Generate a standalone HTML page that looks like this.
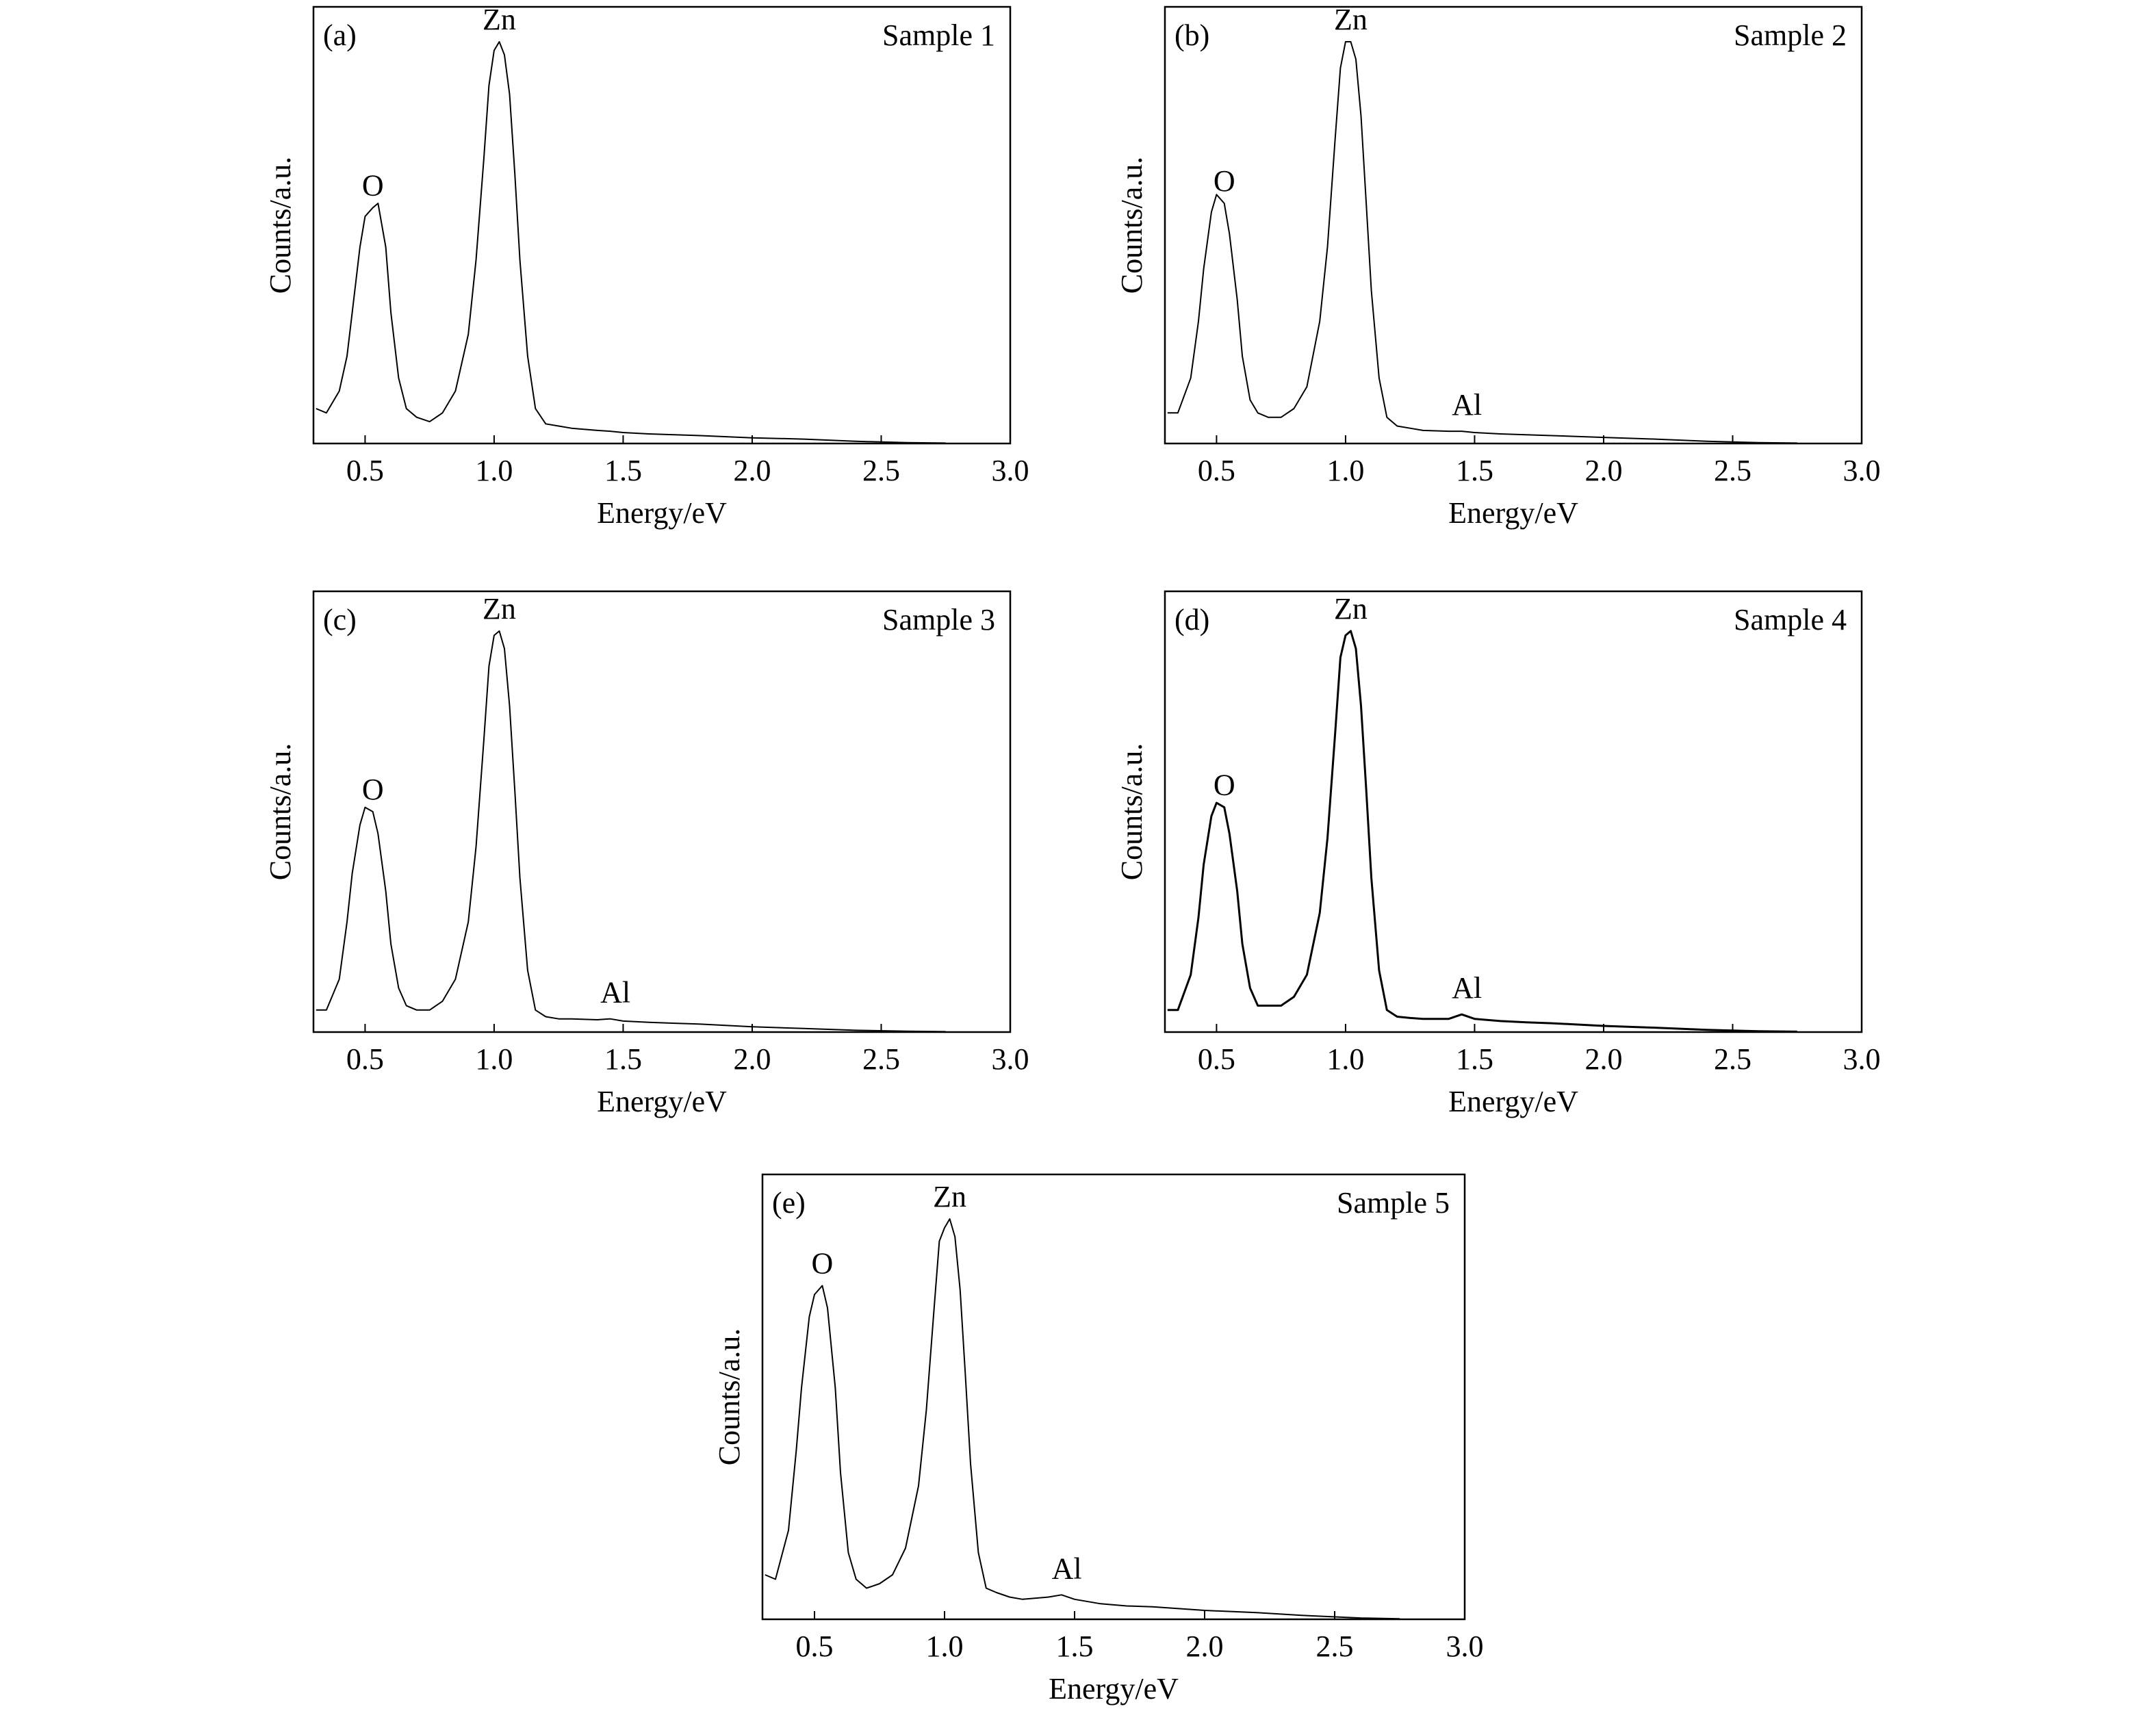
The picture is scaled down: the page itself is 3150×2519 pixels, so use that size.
<!DOCTYPE html>
<html><head><meta charset="utf-8"><style>
body{margin:0;background:#fff}
svg{display:block;font-family:"Liberation Serif",serif}
</style></head><body>
<svg id="fig" width="3150" height="2519" viewBox="0 0 3150 2519" xmlns="http://www.w3.org/2000/svg"></svg>
<script>
const energies=[0.31,0.35,0.4,0.43,0.45,0.48,0.5,0.53,0.55,0.58,0.6,0.63,0.66,0.7,0.75,0.8,0.85,0.9,0.93,0.96,0.98,1.0,1.02,1.04,1.06,1.08,1.1,1.13,1.16,1.2,1.25,1.3,1.4,1.45,1.5,1.6,1.7,1.8,2.0,2.2,2.4,2.6,2.75];
const sample1=[0.08,0.07,0.12,0.2,0.3,0.45,0.52,0.54,0.55,0.45,0.3,0.15,0.08,0.06,0.05,0.07,0.12,0.25,0.42,0.65,0.82,0.9,0.92,0.89,0.8,0.62,0.42,0.2,0.08,0.045,0.04,0.035,0.03,0.028,0.025,0.022,0.02,0.018,0.013,0.01,0.005,0.002,0.001];
const sample2=[0.07,0.07,0.15,0.28,0.4,0.53,0.57,0.55,0.48,0.33,0.2,0.1,0.07,0.06,0.06,0.08,0.13,0.28,0.45,0.7,0.86,0.92,0.92,0.88,0.75,0.55,0.35,0.15,0.06,0.04,0.035,0.03,0.028,0.028,0.025,0.022,0.02,0.018,0.014,0.01,0.005,0.002,0.001];
const sample3=[0.05,0.05,0.12,0.25,0.36,0.47,0.51,0.5,0.45,0.32,0.2,0.1,0.06,0.05,0.05,0.07,0.12,0.25,0.42,0.66,0.83,0.9,0.91,0.87,0.74,0.55,0.35,0.14,0.05,0.035,0.03,0.03,0.028,0.03,0.025,0.022,0.02,0.018,0.012,0.008,0.004,0.002,0.001];
const sample4=[0.05,0.05,0.13,0.26,0.38,0.49,0.52,0.51,0.45,0.32,0.2,0.1,0.06,0.06,0.06,0.08,0.13,0.27,0.44,0.68,0.85,0.9,0.91,0.87,0.74,0.55,0.35,0.14,0.05,0.035,0.032,0.03,0.03,0.04,0.03,0.025,0.022,0.02,0.014,0.01,0.005,0.002,0.001];
const sample5=[0.1,0.09,0.2,0.38,0.52,0.68,0.73,0.75,0.7,0.52,0.33,0.15,0.09,0.07,0.08,0.1,0.16,0.3,0.47,0.7,0.85,0.88,0.9,0.86,0.74,0.55,0.35,0.15,0.07,0.06,0.05,0.045,0.05,0.055,0.045,0.035,0.03,0.028,0.02,0.015,0.008,0.003,0.001];
const xTicks=[0.5,1.0,1.5,2.0,2.5,3.0];
const xTickLabels=["0.5","1.0","1.5","2.0","2.5","3.0"];
const panelTags=["(a)","(b)","(c)","(d)","(e)"];
const sampleNames=["Sample 1","Sample 2","Sample 3","Sample 4","Sample 5"];
const series=[sample1,sample2,sample3,sample4,sample5];
const hasAl=[false,true,true,true,true];

const boxes=[[458,10,1476,648],[1702,10,2720,648],[458,864,1476,1508],[1702,864,2720,1508],[1114,1716,2140,2366]];
const NS="http://www.w3.org/2000/svg";
const svg=document.getElementById('fig');
function mk(tag,attrs,parent){const e=document.createElementNS(NS,tag);for(const k in attrs)e.setAttribute(k,attrs[k]);(parent||svg).appendChild(e);return e;}
const FS=44;
boxes.forEach((b,i)=>{
  const [x0,y0,x1,y1]=b;
  const g=mk('g',{});
  
  
  const sx=v=>x0+(v-0.3)/(3.0-0.3)*(x1-x0);
  const sy=v=>y1-v*(y1-y0);
  const r=mk('rect',{x:x0,y:y0,width:x1-x0,height:y1-y0,fill:'none',stroke:'#000','stroke-width':2.5},g);
  
  
  xTicks.forEach((t,k)=>{
    const tx=sx(t);
    const tl=mk('line',{x1:tx,x2:tx,y1:y1,y2:y1-12,stroke:'#000','stroke-width':2},g);
    
    
    const lb=mk('text',{x:tx,y:y1+54,'text-anchor':'middle','font-size':FS},g);
    
    
    lb.textContent=xTickLabels[k];
  });
  const xt=mk('text',{x:(x0+x1)/2,y:y1+116,'text-anchor':'middle','font-size':FS},g);
  
  
  xt.textContent='Energy/eV';
  const yt=mk('text',{x:0,y:0,'text-anchor':'middle','font-size':FS,transform:`translate(${x0-34},${(y0+y1)/2}) rotate(-90)`},g);
  
  
  yt.textContent='Counts/a.u.';
  const d=series[i].map((v,k)=>(k?'L':'M')+sx(energies[k]).toFixed(1)+','+sy(v).toFixed(1)).join('');
  const p=mk('path',{d:d,fill:'none',stroke:'#000','stroke-width':i==3?3:2,'stroke-linejoin':'round'},g);
  
  
  const tag=mk('text',{x:x0+14,y:y0+56,'font-size':FS},g);
  
  
  tag.textContent=panelTags[i];
  const sn=mk('text',{x:x1-22,y:y0+56,'text-anchor':'end','font-size':FS},g);
  
  
  sn.textContent=sampleNames[i];
  const s=series[i];
  const zi=22, oi=7;
  const zn=mk('text',{x:sx(energies[zi]),y:sy(s[zi])-18,'text-anchor':'middle','font-size':FS},g);
  
  
  zn.textContent='Zn';
  const o=mk('text',{x:sx(energies[oi]),y:sy(s[oi])-18,'text-anchor':'middle','font-size':FS},g);
  
  
  o.textContent='O';
  if(hasAl[i]){
    const al=mk('text',{x:sx(1.47),y:sy(s[33])-24,'text-anchor':'middle','font-size':FS},g);
    
    
    al.textContent='Al';
  }
});
</script>
</body></html>
